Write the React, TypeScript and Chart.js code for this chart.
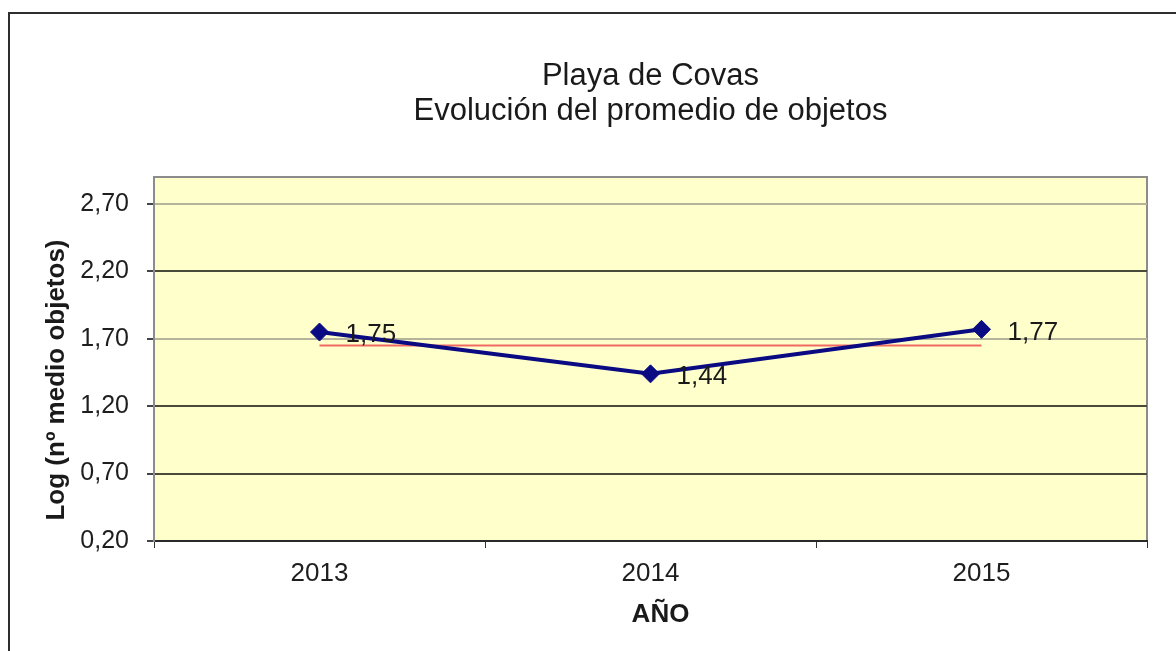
import React, { useEffect, useRef } from 'react';
import { Chart, registerables } from 'chart.js';

Chart.register(...registerables);

// ---- data ----
const years: string[] = ['2013', '2014', '2015'];
const meanLog: number[] = [1.75, 1.44, 1.77];
const overallMean: number[] = [1.65, 1.65, 1.65];
const yTickValues: number[] = [0.2, 0.7, 1.2, 1.7, 2.2, 2.7];
const lightGridValues: number[] = [1.7, 2.7];
const yMin = 0.2;
const yMax = 2.9;
const titleLines: string[] = ['Playa de Covas', 'Evolución del promedio de objetos'];
const xTitle = 'AÑO';
const yTitle = 'Log (nº medio objetos)';

const FONT = '"Liberation Sans", Arial, sans-serif';
const fmt = (v: number) => v.toFixed(2).replace('.', ',');

export default function App() {
  const ref = useRef<HTMLCanvasElement>(null);

  useEffect(() => {
    const canvas = ref.current;
    if (!canvas) return;

    const framePlugin = {
      id: 'frame',
      beforeDraw(chart: any) {
        const { ctx, chartArea: a } = chart;
        ctx.save();
        ctx.fillStyle = '#ffffff';
        ctx.fillRect(0, 0, chart.width, chart.height);
        // outer chart border (only left/top visible)
        ctx.strokeStyle = '#2e2e2e';
        ctx.lineWidth = 2;
        ctx.beginPath();
        ctx.moveTo(9, chart.height + 10);
        ctx.lineTo(9, 13);
        ctx.lineTo(chart.width + 10, 13);
        ctx.stroke();
        // plot area
        ctx.fillStyle = '#ffffcc';
        ctx.fillRect(a.left, a.top, a.right - a.left, a.bottom - a.top);
        ctx.strokeStyle = '#8c8c8c';
        ctx.lineWidth = 2;
        ctx.strokeRect(a.left, a.top, a.right - a.left, a.bottom - a.top);
        ctx.restore();
      },
      afterDatasetsDraw(chart: any) {
        const { ctx } = chart;
        const meta = chart.getDatasetMeta(0);
        ctx.save();
        ctx.font = `26px ${FONT}`;
        ctx.fillStyle = '#1a1a1a';
        ctx.textAlign = 'left';
        ctx.textBaseline = 'middle';
        meta.data.forEach((pt: any, i: number) => {
          ctx.fillText(fmt(meanLog[i]), pt.x + 26, pt.y + 3);
        });
        ctx.restore();
      },
      afterDraw(chart: any) {
        const { ctx, chartArea: a } = chart;
        const cx = (a.left + a.right) / 2;
        const cy = (a.top + a.bottom) / 2;
        ctx.save();
        ctx.fillStyle = '#1a1a1a';
        ctx.textAlign = 'center';
        ctx.textBaseline = 'middle';
        ctx.font = `31px ${FONT}`;
        titleLines.forEach((t, i) => {
          ctx.fillText(t, cx, a.top - 101 + i * 35);
        });
        ctx.font = `bold 26px ${FONT}`;
        ctx.fillText(xTitle, cx + 10, a.bottom + 74);
        ctx.translate(57, cy + 21);
        ctx.rotate(-Math.PI / 2);
        ctx.font = `bold 26px ${FONT}`;
        ctx.fillText(yTitle, 0, 0);
        ctx.restore();
      },
    };

    const chart = new Chart(canvas, {
      type: 'line',
      data: {
        labels: years,
        datasets: [
          {
            label: 'Promedio',
            data: meanLog,
            borderColor: '#0a0a82',
            backgroundColor: '#0a0a82',
            borderWidth: 4,
            pointStyle: 'rectRot',
            pointRadius: 9,
            pointBackgroundColor: '#0a0a82',
            pointBorderColor: '#0a0a82',
            pointBorderWidth: 1,
            tension: 0,
          },
          {
            label: 'Media',
            data: overallMean,
            borderColor: '#f06a62',
            borderWidth: 2,
            pointRadius: 0,
            tension: 0,
          },
        ],
      },
      options: {
        responsive: false,
        animation: false,
        devicePixelRatio: 1,
        layout: { padding: { left: 0, right: 29, top: 177, bottom: 0 } },
        plugins: {
          legend: { display: false },
          tooltip: { enabled: false },
          title: { display: false },
        },
        scales: {
          x: {
            type: 'category',
            offset: true,
            afterFit: (s: any) => {
              s.height = 110;
            },
            grid: {
              offset: true,
              drawOnChartArea: false,
              drawTicks: true,
              tickLength: 7,
              tickColor: '#333333',
              lineWidth: 1,
            },
            border: { color: '#2a2a2a', width: 2 },
            ticks: {
              font: { family: FONT, size: 26 },
              color: '#1e1e1e',
              padding: 10,
              maxRotation: 0,
            },
          },
          y: {
            min: yMin,
            max: yMax,
            afterFit: (s: any) => {
              s.width = 154;
            },
            afterBuildTicks: (s: any) => {
              s.ticks = yTickValues.map((v) => ({ value: v }));
            },
            grid: {
              color: (c: any) =>
                c.tick && lightGridValues.includes(c.tick.value) ? '#b4b49a' : '#4a4a3a',
              lineWidth: 2,
              tickLength: 7,
              tickColor: '#444444',
            },
            border: { color: '#8c8c8c', width: 2 },
            ticks: {
              font: { family: FONT, size: 25 },
              color: '#1e1e1e',
              padding: 18,
              callback: (v: any) => fmt(Number(v)),
            },
          },
        },
      },
      plugins: [framePlugin],
    });

    return () => chart.destroy();
  }, []);

  return (
    <div style={{ position: 'absolute', left: 0, top: 0, width: 1176, height: 651 }}>
      <canvas ref={ref} width={1176} height={651} style={{ display: 'block' }} />
    </div>
  );
}
